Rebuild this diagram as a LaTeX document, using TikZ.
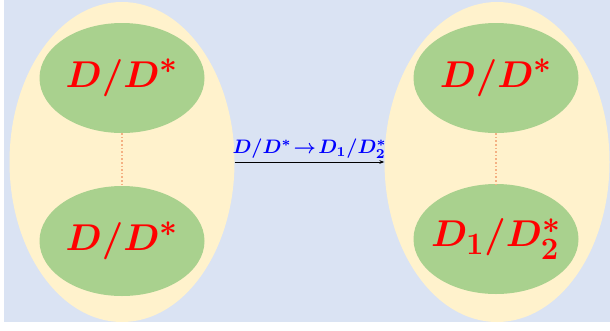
\documentclass[tikz,border=0pt]{standalone}
\usepackage{amsmath,amssymb,bm}
\usepackage{graphicx}
\usepackage{xcolor}
\usepackage{tikz}
\usetikzlibrary{positioning,shapes.geometric,arrows.meta}
\definecolor{bgblue}{RGB}{218,227,243}
\definecolor{shell}{RGB}{255,242,204}
\definecolor{core}{RGB}{169,209,142}
\definecolor{link}{RGB}{244,177,131}
\newcommand{\meson}[1]{\scalebox{1.5}{\Huge$\bm{#1}$}}

\begin{document}
\begin{tikzpicture}[x=1pt,y=-1pt,
    shellbox/.style={ellipse,fill=shell,minimum width=225pt,minimum height=320pt,inner sep=0pt},
    corebox/.style={ellipse,fill=core,minimum width=165pt,minimum height=110pt,inner sep=0pt},
    corelabel/.style={text=red,inner sep=0pt}]
    \useasboundingbox (0,0) rectangle (610,330);
    \fill[bgblue] (4,0) rectangle (610,322);
    \node[shellbox] (L) at (122,162) {};
    \node[shellbox] (R) at (497,162) {};
    \node[corebox,label={[corelabel]center:\meson{D/D^*}}] (L1) at (122,78) {};
    \node[corebox,label={[corelabel]center:\meson{D/D^*}}] (L2) at (122,241) {};
    \node[corebox,label={[corelabel]center:\meson{D/D^*}}] (R1) at (496,78) {};
    \node[corebox,label={[corelabel]center:\meson{D_1/D_2^*}}] (R2) at (496,239) {};
    \draw[link,dotted,line width=1.6pt] (L1.south) -- (L2.north);
    \draw[link,dotted,line width=1.6pt] (R1.south) -- (R2.north);
    \draw[-{Stealth[length=5pt]},line width=0.9pt] (L.east) -- (R.west)
      node[midway,above=3pt,text=blue,inner sep=0pt]
        {\scalebox{1.95}{$\bm{D/D^*\!\rightarrow\! D_1/D_2^*}$}};
  \end{tikzpicture}
\end{document}
